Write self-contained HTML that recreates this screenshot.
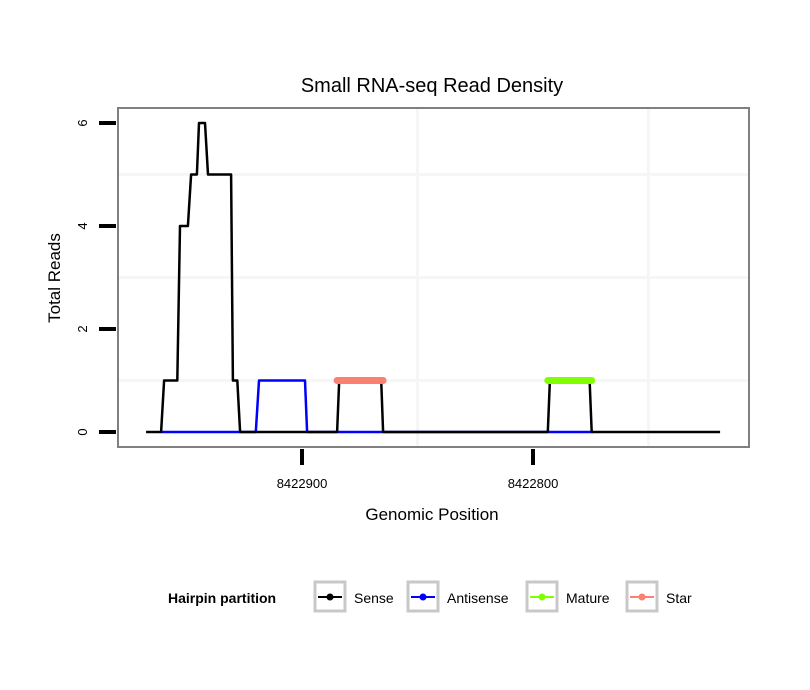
<!DOCTYPE html>
<html><head><meta charset="utf-8"><style>
body{margin:0;background:#fff;}
svg{display:block;font-family:"Liberation Sans",sans-serif;}
</style></head><body>
<svg id="chart" width="810" height="690">
<text x="432" y="92" font-size="20" text-anchor="middle">Small RNA-seq Read Density</text>
<rect x="118" y="108" width="631" height="339" fill="#fff"/>
<g id="grid"></g>
<g id="series"></g>
<rect x="118" y="108" width="631" height="339" fill="none" stroke="#808080" stroke-width="2"/>
<g id="axes"></g>
<text x="432" y="520" font-size="17" text-anchor="middle">Genomic Position</text>
<text transform="translate(60,278) rotate(-90)" font-size="17" text-anchor="middle">Total Reads</text>
<g>
<text x="168" y="603" font-size="14" font-weight="bold">Hairpin partition</text>
<g id="legend"></g>
</g>
</svg>
<script>
const yTicks=[0,2,4,6];
const yMinor=[1,3,5];
const xTicks=[8422900,8422800];
const xTickLabels=["8422900","8422800"];
const xMinor=[8422850,8422750];
const sensePos=[8422967.5,8422961,8422959.7,8422954,8422952.8,8422949.4,8422948,8422945.5,8422944.6,8422942,8422940.7,8422930.7,8422929.9,8422928,8422926.8,8422884.8,8422883.9,8422865.7,8422864.9,8422793.6,8422792.7,8422775.5,8422774.6,8422719];
const senseVal=[0,0,1,1,4,4,5,5,6,6,5,5,1,1,0,0,1,1,0,0,1,1,0,0];
const antiPos=[8422961,8422920,8422918.6,8422898.7,8422897.8,8422774];
const antiVal=[0,0,1,1,0,0];
const starPos=[8422884.8,8422864.9];
const starVal=[1,1];
const maturePos=[8422793.6,8422774.6];
const matureVal=[1,1];
const legendLabels=["Sense","Antisense","Mature","Star"];
const legendColors=["#000","#0000ff","#7fff00","#fa8072"];

const NS="http://www.w3.org/2000/svg";
const X=p=>302+(8422900-p)*2.31;
const Y=v=>432-v*51.5;
function mk(tag,attrs,parent){const e=document.createElementNS(NS,tag);for(const k in attrs)e.setAttribute(k,attrs[k]);parent.appendChild(e);return e;}
const grid=document.getElementById('grid'),series=document.getElementById('series'),axes=document.getElementById('axes'),legend=document.getElementById('legend');
yMinor.forEach(v=>{const l=mk('line',{x1:119,x2:748,y1:Y(v),y2:Y(v),stroke:'#f6f6f6','stroke-width':3},grid);

});
xMinor.forEach(p=>{const l=mk('line',{x1:X(p),x2:X(p),y1:109,y2:446,stroke:'#f6f6f6','stroke-width':3},grid);

});
function path(ps,vs,color,w,name,cap){const d=ps.map((p,i)=>(i?'L':'M')+X(p).toFixed(1)+','+Y(vs[i]).toFixed(1)).join('');
const e=mk('path',{d:d,fill:'none',stroke:color,'stroke-width':w,'stroke-linejoin':'round','stroke-linecap':cap||'butt'},series);

}
path(antiPos,antiVal,'#0000ff',2.5,'antisense-line');
path(sensePos,senseVal,'#000',2.5,'sense-line');
path(starPos,starVal,'#fa8072',7,'star-line','round');
path(maturePos,matureVal,'#7fff00',7,'mature-line','round');
yTicks.forEach(v=>{const t=mk('line',{x1:99,x2:116,y1:Y(v),y2:Y(v),stroke:'#000','stroke-width':4},axes);


const tx=mk('text',{transform:`translate(${87},${Y(v)}) rotate(-90)`,'font-size':13,'text-anchor':'middle'},axes);tx.textContent=v;

});
xTicks.forEach((p,i)=>{const t=mk('line',{x1:X(p),x2:X(p),y1:449,y2:465,stroke:'#000','stroke-width':4},axes);


const tx=mk('text',{x:X(p),y:488,'font-size':13,'text-anchor':'middle'},axes);tx.textContent=xTickLabels[i];

});
const lx=[315,408,527,627];
legendLabels.forEach((lab,i)=>{const g=mk('g',{},legend);


mk('rect',{x:lx[i],y:582,width:30,height:29,fill:'#fff',stroke:'#c8c8c8','stroke-width':3},g);
mk('line',{x1:lx[i]+3,x2:lx[i]+27,y1:597,y2:597,stroke:legendColors[i],'stroke-width':2},g);
mk('circle',{cx:lx[i]+15,cy:597,r:3.5,fill:legendColors[i]},g);
const t=mk('text',{x:lx[i]+39,y:603,'font-size':14},g);t.textContent=lab;});
</script>
</body></html>
